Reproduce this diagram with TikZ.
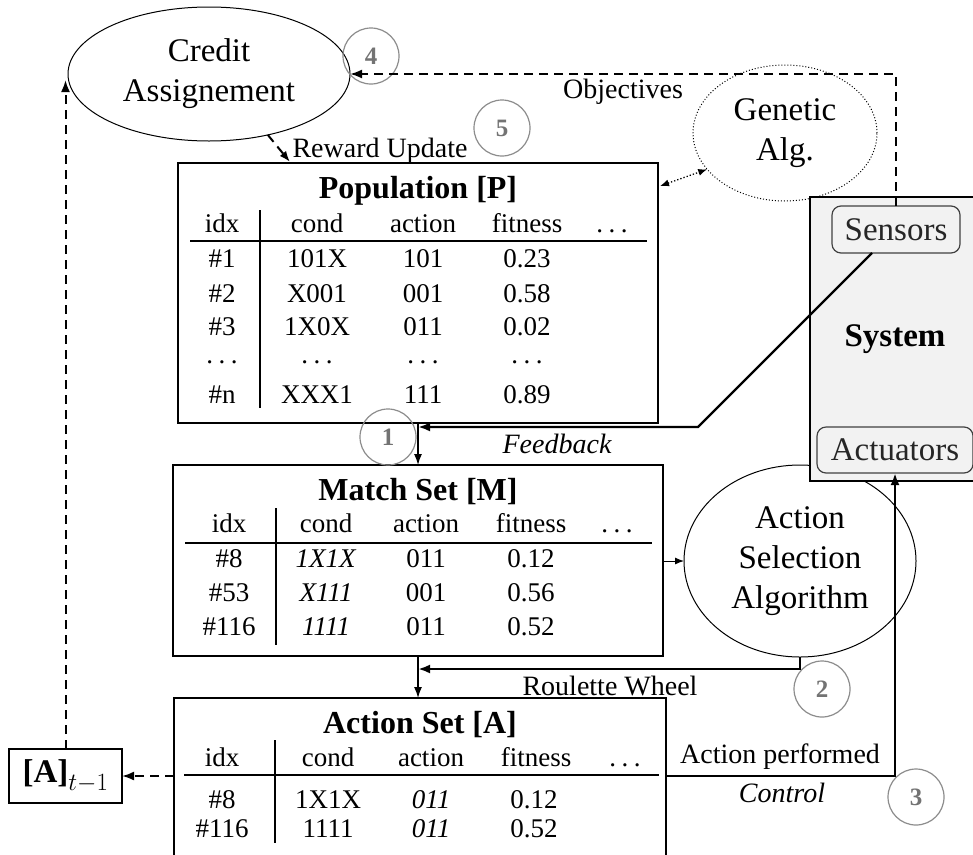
\documentclass[tikz,border=0pt]{standalone}
\usepackage{fontspec}
\setmainfont{Liberation Serif}
\usetikzlibrary{arrows.meta,shapes.geometric,calc}
\newcommand{\mydots}{.\hspace{0.2em}.\hspace{0.2em}.}
\begin{document}
\begin{tikzpicture}[x=1pt,y=-1pt,
  every node/.style={inner sep=0pt, outer sep=0pt},
  tbox/.style={draw, line width=1.3pt},
  cell/.style={anchor=base, font=\fontsize{27}{27}\selectfont},
  ttl/.style={anchor=base, font=\bfseries\fontsize{32}{32}\selectfont},
  ell/.style={ellipse, draw, line width=1pt, align=center, font=\fontsize{33}{40}\selectfont},
  num/.style={circle, draw=black!45, line width=1.2pt, minimum size=56pt, text=black!55, font=\bfseries\fontsize{25}{25}\selectfont},
  lbl/.style={anchor=base, font=\fontsize{28}{28}\selectfont},
  ilbl/.style={anchor=base, font=\itshape\fontsize{28}{28}\selectfont},
  thickarr/.style={line width=2.4pt, -{Latex[length=12pt,width=9pt]}},
  dasharr/.style={line width=2pt, dash pattern=on 9pt off 6pt, -{Latex[length=12pt,width=9pt]}},
  thinarr/.style={line width=1.3pt, -{Latex[length=11pt,width=8pt]}},
  rule/.style={line width=1.3pt},
  inbox/.style={draw=black!75, rounded corners=9pt, line width=1.2pt, fill=black!5, text=black!85, font=\fontsize{33}{33}\selectfont}
]
\useasboundingbox (0,0) rectangle (973,854);

% ---------- ellipses ----------
\node[ell, minimum width=282pt, minimum height=134pt] (cred) at (209,74) {Credit\\Assignement};
\node[ell, dotted, minimum width=184pt, minimum height=136pt] (gen) at (785,133) {Genetic\\Alg.};
\node[ell, minimum width=232pt, minimum height=192pt] (asa) at (800,561) {Action\\Selection\\Algorithm};

% ---------- system ----------
\node[draw, line width=1.2pt, fill=black!5, minimum width=170pt, minimum height=284pt,
      font=\bfseries\fontsize{33}{33}\selectfont] (sys) at (895,339) {System};
\node[inbox, minimum width=128pt, minimum height=47pt] (sens) at (896,229.5) {Sensors};
\node[inbox, minimum width=156pt, minimum height=46pt] (actu) at (895,450) {Actuators};

% ---------- tables ----------
\node[tbox, minimum width=480pt, minimum height=260pt] (pop) at (418,293) {};
\node[tbox, minimum width=490pt, minimum height=191pt] (match) at (418,560.5) {};
\node[tbox, minimum width=492pt, minimum height=172pt] (act) at (420,784) {};
\node[draw, line width=1.3pt, minimum width=113pt, minimum height=54pt,
      font=\fontsize{33}{33}\selectfont] (abox) at (65.5,776) {\textbf{[A]}$_{t-1}$};

% Population
\node[ttl] (popt) at (418,198) {Population [P]};
\foreach \x/\t [count=\i] in {222/idx, 317/cond, 423/action, 527/fitness, 612/\mydots}
  \node[cell] (ph\i) at (\x,232) {\t};
\foreach \y/\a/\b/\c/\d [count=\r] in {267/\#1/101X/101/0.23, 302/\#2/X001/001/0.58,
    335/\#3/1X0X/011/0.02, 363/\mydots/\mydots/\mydots/\mydots, 403/\#n/XXX1/111/0.89} {
  \node[cell] (pr\r a) at (222,\y) {\a};
  \node[cell] (pr\r b) at (317,\y) {\b};
  \node[cell] (pr\r c) at (423,\y) {\c};
  \node[cell] (pr\r d) at (527,\y) {\d};
}
\draw[rule] (190,241) -- (647,241);
\draw[rule] (260,210) -- (260,408);

% Match set
\node[ttl] (matcht) at (418,500) {Match Set [M]};
\foreach \x/\t [count=\i] in {229/idx, 326/cond, 426/action, 531/fitness, 617/\mydots}
  \node[cell] (mh\i) at (\x,532) {\t};
\foreach \y/\a/\b/\c/\d [count=\r] in {567/\#8/\textit{1X1X}/011/0.12,
    601/\#53/\textit{X111}/001/0.56, 635/\#116/\textit{1111}/011/0.52} {
  \node[cell] (mr\r a) at (229,\y) {\a};
  \node[cell] (mr\r b) at (326,\y) {\b};
  \node[cell] (mr\r c) at (426,\y) {\c};
  \node[cell] (mr\r d) at (531,\y) {\d};
}
\draw[rule] (185,543) -- (652,543);
\draw[rule] (276,508) -- (276,645);

% Action set
\node[ttl] (actt) at (420,733) {Action Set [A]};
\foreach \x/\t [count=\i] in {222/idx, 328/cond, 431/action, 536/fitness, 625/\mydots}
  \node[cell] (ah\i) at (\x,766) {\t};
\foreach \y/\a/\b/\c/\d [count=\r] in {808/\#8/1X1X/\textit{011}/0.12,
    837/\#116/1111/\textit{011}/0.52} {
  \node[cell] (ar\r a) at (222,\y) {\a};
  \node[cell] (ar\r b) at (328,\y) {\b};
  \node[cell] (ar\r c) at (431,\y) {\c};
  \node[cell] (ar\r d) at (534,\y) {\d};
}
\draw[rule] (184,775) -- (659,775);
\draw[rule] (275,740) -- (275,843);

% ---------- step circles ----------
\node[num] (c1) at (388,437) {1};
\node[num] (c2) at (822,689) {2};
\node[num] (c3) at (916,797) {3};
\node[num] (c4) at (371,56) {4};
\node[num] (c5) at (502,128) {5};

% ---------- helper coordinates ----------
\coordinate (rw) at (290,162);
\coordinate (ga1) at (660,186);
\coordinate (fb0) at ($(sens.south)+(-24,0)$);
\coordinate (fb1) at (698,427);
\coordinate (yrw) at (0,669);
\coordinate (yap) at (0,776);
\coordinate (ytop) at (0,80);

% ---------- connectors ----------
\draw[dasharr] (sens.north) |- (cred.east);
\node[lbl] (objl) at (623,98) {Objectives};

\draw[dasharr, -{Latex[length=11pt,width=8pt]}] (cred.-46) -- (rw);
\node[lbl] (rwl) at (380,157) {Reward Update};

\draw[dotted, line width=1.3pt, {Latex[length=9pt,width=7pt]}-{Latex[length=9pt,width=7pt]}] (ga1) -- (gen.205);

\draw[thickarr] (fb0) -- (fb1) -- (fb1 -| pop.south);
\node[ilbl] (fbl) at (557,453) {Feedback};
\draw[thinarr] (pop.south) -- (match.north);

\draw[line width=1pt, -{Latex[length=9pt,width=7pt]}] (match.east |- asa.west) -- (asa.west);

\draw[thickarr] (asa.south) -- (asa.south |- yrw) -- (match.south |- yrw);
\node[lbl] (rwhl) at (610,695) {Roulette Wheel};
\draw[thinarr] (match.south) -- (match.south |- act.north);

\draw[thickarr] (act.east |- yap) -| (actu.south);
\node[lbl] (apl) at (780,763) {Action performed};
\node[ilbl] (ctl) at (782,802) {Control};

\draw[dasharr] (act.west |- abox.east) -- (abox.east);
\draw[dasharr] (abox.north) -- (abox.north |- ytop);
\end{tikzpicture}
\end{document}
